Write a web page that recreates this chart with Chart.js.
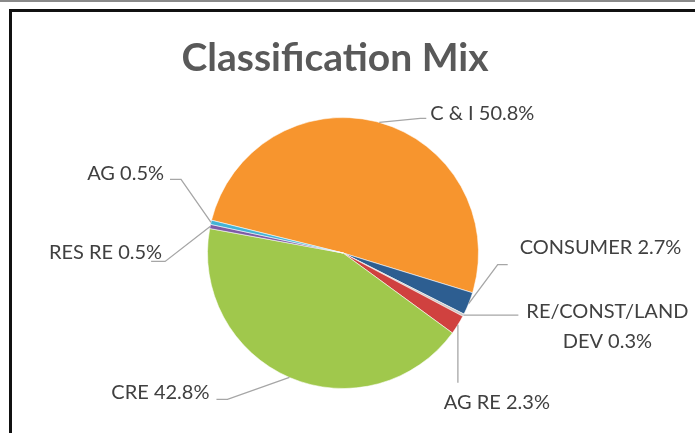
<!DOCTYPE html>
<html>
<head>
<meta charset="utf-8">
<script src="https://cdn.jsdelivr.net/npm/chart.js@4/dist/chart.umd.min.js"></script>
<style>
  html, body { margin: 0; padding: 0; background: #fff; }
  #wrap { position: relative; width: 695px; height: 433px; overflow: hidden; }
  #topline { position: absolute; left: 0; top: 0; width: 695px; height: 2px; background: #8a8a8a; }
  #frame { position: absolute; left: 9px; top: 9px; width: 700px; height: 440px;
           border-left: 3px solid #111; border-top: 3px solid #111; }
  canvas { position: absolute; left: 0; top: 0; }
</style>
</head>
<body>
<div id="wrap">
  <div id="topline"></div>
  <div id="frame"></div>
  <canvas id="mixChart" width="695" height="433"></canvas>
</div>
<script>
// Chart data
const chartTitle = 'Classification Mix';
const categories = ['C & I', 'CONSUMER', 'RE/CONST/LAND DEV', 'AG RE', 'CRE', 'RES RE', 'AG'];
const shares = [50.8, 2.7, 0.3, 2.3, 42.8, 0.5, 0.5];
const sliceColors = ['#F7952E', '#2D5E91', '#C9C9C9', '#D0413F', '#A0C84C', '#7E5BA6', '#42B3D5'];

// leader line layout per label, offsets from the slice's outer mid point
const labelLayout = [
    { elbow: [41, -4],  end: [47, -4],  text: [51, -9],  align: 'left' },
    { elbow: [29, -39], end: [39, -39], text: [51, -56], align: 'left' },
    { elbow: [55, 0],   end: [55, 0],   text: [144, -4], align: 'center', wrap: 185 },
    { elbow: [0, 58],   end: [0, 58],   text: [39, 78],  align: 'center' },
    { elbow: [-62, 22], end: [-73, 22], text: [-80, 15], align: 'right' },
    { elbow: [-45, 35], end: [-59, 35], text: [-48, 26], align: 'right' },
    { elbow: [-30, -43], end: [-41, -43], text: [-47, -49], align: 'right' }
];

const FONT = 'Lato, "Open Sans", sans-serif';

function shade(hex, amt) {
    const n = parseInt(hex.slice(1), 16);
    let r = (n >> 16) & 255, g = (n >> 8) & 255, b = n & 255;
    const f = c => Math.max(0, Math.min(255, Math.round(amt < 0 ? c * (1 + amt) : c + (255 - c) * amt)));
    return `rgb(${f(r)},${f(g)},${f(b)})`;
}

function sliceFill(context) {
    const base = sliceColors[context.dataIndex];
    const chart = context.chart;
    const meta = chart.getDatasetMeta(0);
    const arc = meta.data[context.dataIndex];
    if (!arc || !arc.outerRadius) return base;
    const g = chart.ctx.createRadialGradient(arc.x, arc.y, 0, arc.x, arc.y, arc.outerRadius);
    g.addColorStop(0, shade(base, 0.08));
    g.addColorStop(0.88, base);
    g.addColorStop(1, shade(base, -0.15));
    return g;
}

function wrapText(ctx, text, maxWidth) {
    const words = text.split(' ');
    const lines = [];
    let line = '';
    words.forEach(w => {
        const test = line ? line + ' ' + w : w;
        if (line && ctx.measureText(test).width > maxWidth) {
            lines.push(line);
            line = w;
        } else {
            line = test;
        }
    });
    lines.push(line);
    return lines;
}

// title drawn by hand so it can sit left of the canvas centre like the original
const titlePlugin = {
    id: 'mixTitle',
    afterDraw(chart) {
        const ctx = chart.ctx;
        ctx.save();
        ctx.font = 'bold 39px ' + FONT;
        ctx.fillStyle = '#595959';
        ctx.textAlign = 'center';
        ctx.textBaseline = 'middle';
        ctx.fillText(chartTitle, 335, 58);
        ctx.restore();
    }
};

const leaderLabels = {
    id: 'leaderLabels',
    afterDatasetsDraw(chart) {
        const ctx = chart.ctx;
        const meta = chart.getDatasetMeta(0);
        ctx.save();
        ctx.font = '20px ' + FONT;
        meta.data.forEach((arc, i) => {
            const p = arc.getProps(['x', 'y', 'startAngle', 'endAngle', 'outerRadius'], true);
            const mid = (p.startAngle + p.endAngle) / 2;
            const px = p.x + Math.cos(mid) * p.outerRadius;
            const py = p.y + Math.sin(mid) * p.outerRadius;
            const lay = labelLayout[i];

            ctx.strokeStyle = '#A6A6A6';
            ctx.lineWidth = 1.3;
            ctx.beginPath();
            ctx.moveTo(px, py);
            ctx.lineTo(px + lay.elbow[0], py + lay.elbow[1]);
            ctx.lineTo(px + lay.end[0], py + lay.end[1]);
            ctx.stroke();

            const text = `${categories[i]} ${shares[i].toFixed(1)}%`;
            const lines = lay.wrap ? wrapText(ctx, text, lay.wrap) : [text];
            const lh = 30;
            const tx = px + lay.text[0];
            let ty = py + lay.text[1];
            ctx.fillStyle = '#404040';
            ctx.textAlign = lay.align;
            ctx.textBaseline = 'middle';
            lines.forEach((ln, k) => ctx.fillText(ln, tx, ty + k * lh));
        });
        ctx.restore();
    }
};

new Chart(document.getElementById('mixChart').getContext('2d'), {
    type: 'pie',
    data: {
        labels: categories,
        datasets: [{
            data: shares,
            backgroundColor: sliceFill,
            borderColor: 'rgba(255,255,255,0.55)',
            borderWidth: 1,
            hoverOffset: 0
        }]
    },
    options: {
        responsive: false,
        animation: false,
        rotation: -76,
        layout: { padding: { left: 207, right: 216, top: 117, bottom: 44 } },
        plugins: {
            legend: { display: false },
            tooltip: { enabled: false },
            title: { display: false }
        }
    },
    plugins: [leaderLabels, titlePlugin]
});
</script>
</body>
</html>
